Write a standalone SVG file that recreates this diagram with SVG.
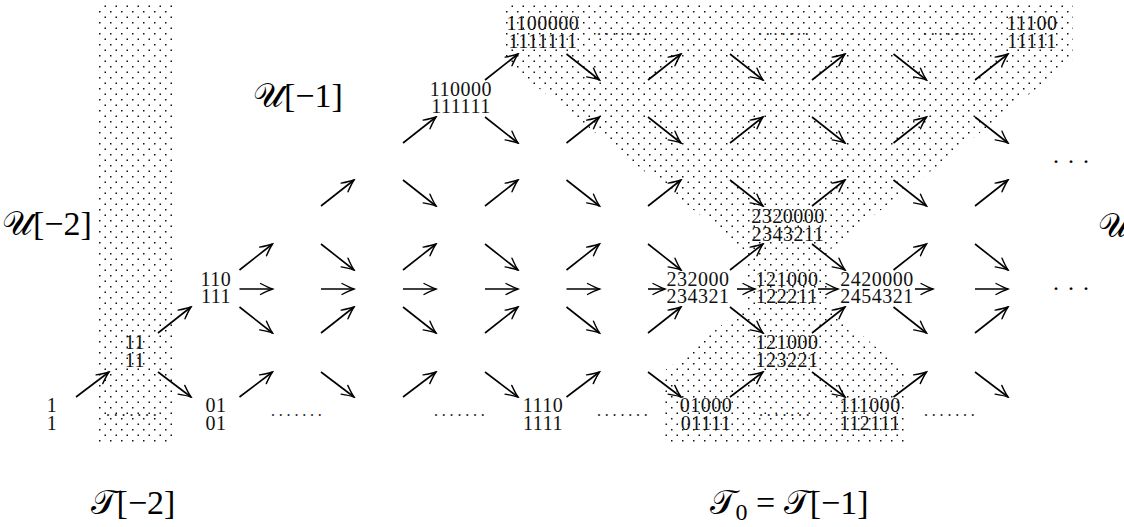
<svg xmlns="http://www.w3.org/2000/svg" width="1124" height="527" viewBox="0 0 1124 527">
<style>
.n{font-family:"Liberation Serif","DejaVu Serif",serif;font-size:20px;letter-spacing:0.5px;text-anchor:middle;fill:#111}
.lab{font-family:"Liberation Serif","DejaVu Serif",serif;font-size:34px;fill:#000}
.dl{font-family:"Liberation Serif",serif;font-size:16px;letter-spacing:3.8px;fill:#222}
.cd{font-family:"Liberation Serif",serif;font-size:24px;letter-spacing:9px;fill:#000}
.a{stroke:#000;stroke-width:1.6;fill:none;marker-end:url(#ah)}
</style>
<defs>
<pattern id="dots" patternUnits="userSpaceOnUse" x="0" y="0" width="11" height="11">
<rect x="0" y="0" width="1.5" height="1.5" fill="#111"/>
<rect x="5.5" y="5.5" width="1.5" height="1.5" fill="#111"/>
</pattern>
<marker id="ah" viewBox="-14 -7 16 14" refX="0" refY="0" markerWidth="16" markerHeight="14" markerUnits="userSpaceOnUse" orient="auto">
<path d="M-12,-5.5 Q-4.5,-1.5 0,0 Q-4.5,1.5 -12,5.5" fill="none" stroke="#000" stroke-width="1.4" stroke-linecap="round"/>
</marker>
</defs>
<rect width="1124" height="527" fill="#fff"/>
<g id="shading">
<rect x="95" y="5" width="78" height="437" fill="url(#dots)"/>
<path d="M503,5 L1073,5 L1073,60 L827,252 L827,305 L905,372 L905,442 L663,442 L663,372 L747,305 L747,252 L503,60 Z" fill="url(#dots)"/>
</g>
<g id="connectors">
<path class="a" d="M76,397 L109,372"/>
<path class="a" d="M158,372 L191,397"/>
<path class="a" d="M239.5,397 L272.5,372"/>
<path class="a" d="M321,372 L354,397"/>
<path class="a" d="M403,397 L436,372"/>
<path class="a" d="M485,372 L518,397"/>
<path class="a" d="M566.5,397 L599.5,372"/>
<path class="a" d="M648,372 L681,397"/>
<path class="a" d="M730,397 L763,372"/>
<path class="a" d="M812,372 L845,397"/>
<path class="a" d="M893.5,397 L926.5,372"/>
<path class="a" d="M975,372 L1008,397"/>
<path class="a" d="M158,333 L191,307"/>
<path class="a" d="M239.5,307 L272.5,333"/>
<path class="a" d="M321,333 L354,307"/>
<path class="a" d="M403,307 L436,333"/>
<path class="a" d="M485,333 L518,307"/>
<path class="a" d="M566.5,307 L599.5,333"/>
<path class="a" d="M648,333 L681,307"/>
<path class="a" d="M730,307 L763,333"/>
<path class="a" d="M812,333 L845,307"/>
<path class="a" d="M893.5,307 L926.5,333"/>
<path class="a" d="M975,333 L1008,307"/>
<path class="a" d="M239.5,289 L272.5,289"/>
<path class="a" d="M321,289 L354,289"/>
<path class="a" d="M403,289 L436,289"/>
<path class="a" d="M485,289 L518,289"/>
<path class="a" d="M566.5,289 L599.5,289"/>
<path class="a" d="M648,289 L665,289"/>
<path class="a" d="M737,289 L755,289"/>
<path class="a" d="M818,289 L838,289"/>
<path class="a" d="M915,289 L933,289"/>
<path class="a" d="M975,289 L1008,289"/>
<path class="a" d="M239.5,270 L272.5,244"/>
<path class="a" d="M321,244 L354,270"/>
<path class="a" d="M403,270 L436,244"/>
<path class="a" d="M485,244 L518,270"/>
<path class="a" d="M566.5,270 L599.5,244"/>
<path class="a" d="M648,244 L681,270"/>
<path class="a" d="M730,270 L763,244"/>
<path class="a" d="M812,244 L845,270"/>
<path class="a" d="M893.5,270 L926.5,244"/>
<path class="a" d="M975,244 L1008,270"/>
<path class="a" d="M321,206 L354,180"/>
<path class="a" d="M403,180 L436,206"/>
<path class="a" d="M485,206 L518,180"/>
<path class="a" d="M566.5,180 L599.5,206"/>
<path class="a" d="M648,206 L681,180"/>
<path class="a" d="M730,180 L763,206"/>
<path class="a" d="M812,206 L845,180"/>
<path class="a" d="M893.5,180 L926.5,206"/>
<path class="a" d="M975,206 L1008,180"/>
<path class="a" d="M403,143 L436,117"/>
<path class="a" d="M485,117 L518,143"/>
<path class="a" d="M566.5,143 L599.5,117"/>
<path class="a" d="M648,117 L681,143"/>
<path class="a" d="M730,143 L763,117"/>
<path class="a" d="M812,117 L845,143"/>
<path class="a" d="M893.5,143 L926.5,117"/>
<path class="a" d="M975,117 L1008,143"/>
<path class="a" d="M485,80 L518,54"/>
<path class="a" d="M566.5,54 L599.5,80"/>
<path class="a" d="M648,80 L681,54"/>
<path class="a" d="M730,54 L763,80"/>
<path class="a" d="M812,80 L845,54"/>
<path class="a" d="M893.5,54 L926.5,80"/>
<path class="a" d="M975,80 L1008,54"/>
</g>
<g id="n-c0r0"><text class="n" x="52" y="412">1<tspan x="52" dy="18">1</tspan></text></g>
<g id="n-c1r1"><text class="n" x="135" y="349">11<tspan x="135" dy="18">11</tspan></text></g>
<g id="n-c2r2"><text class="n" x="216" y="286">110<tspan x="216" dy="17">111</tspan></text></g>
<g id="n-c2r0"><text class="n" x="216" y="412">01<tspan x="216" dy="18">01</tspan></text></g>
<g id="n-c5r5"><text class="n" x="461" y="96">110000<tspan x="461" dy="17">111111</tspan></text></g>
<g id="n-c6r6"><text class="n" x="543" y="30">1100000<tspan x="543" dy="18">1111111</tspan></text></g>
<g id="n-c6r0"><text class="n" x="543" y="412">1110<tspan x="543" dy="18">1111</tspan></text></g>
<g id="n-c8r0"><text class="n" x="706" y="412">01000<tspan x="706" dy="18">01111</tspan></text></g>
<g id="n-c8r2"><text class="n" x="698" y="286">232000<tspan x="698" dy="17">234321</tspan></text></g>
<g id="n-c9r2"><text class="n" x="787" y="286">121000<tspan x="787" dy="17">122211</tspan></text></g>
<g id="n-c9r3"><text class="n" x="788" y="223">2320000<tspan x="788" dy="18">2343211</tspan></text></g>
<g id="n-c9r1"><text class="n" x="787" y="349">121000<tspan x="787" dy="18">123221</tspan></text></g>
<g id="n-c10r2"><text class="n" x="877" y="286">2420000<tspan x="877" dy="17">2454321</tspan></text></g>
<g id="n-c10r0"><text class="n" x="870" y="412">111000<tspan x="870" dy="18">112111</tspan></text></g>
<g id="n-c12r6"><text class="n" x="1032" y="30">11100<tspan x="1032" dy="18">11111</tspan></text></g>
<g id="dotted">
<text class="dl" x="106" y="416">.......</text>
<text class="dl" x="271" y="416">.......</text>
<text class="dl" x="434" y="416">.......</text>
<text class="dl" x="597" y="416">.......</text>
<text class="dl" x="759" y="416">.......</text>
<text class="dl" x="924" y="416">.......</text>
<text class="dl" x="597" y="35">.......</text>
<text class="dl" x="758" y="35">.......</text>
<text class="dl" x="923" y="35">.......</text>
<text class="cd" x="1053" y="163">...</text>
<text class="cd" x="1053" y="290">...</text>
</g>
<g id="labels">
<text class="lab" x="2" y="235">𝒰[−2]</text>
<text class="lab" x="253" y="107">𝒰[−1]</text>
<text class="lab" x="1098" y="237">𝒰</text>
<text class="lab" x="133" y="514" text-anchor="middle">𝒯[−2]</text>
<text class="lab" x="789" y="514" text-anchor="middle">𝒯<tspan font-size="24" dy="6">0</tspan><tspan dy="-6"> = 𝒯[−1]</tspan></text>
</g>
</svg>
